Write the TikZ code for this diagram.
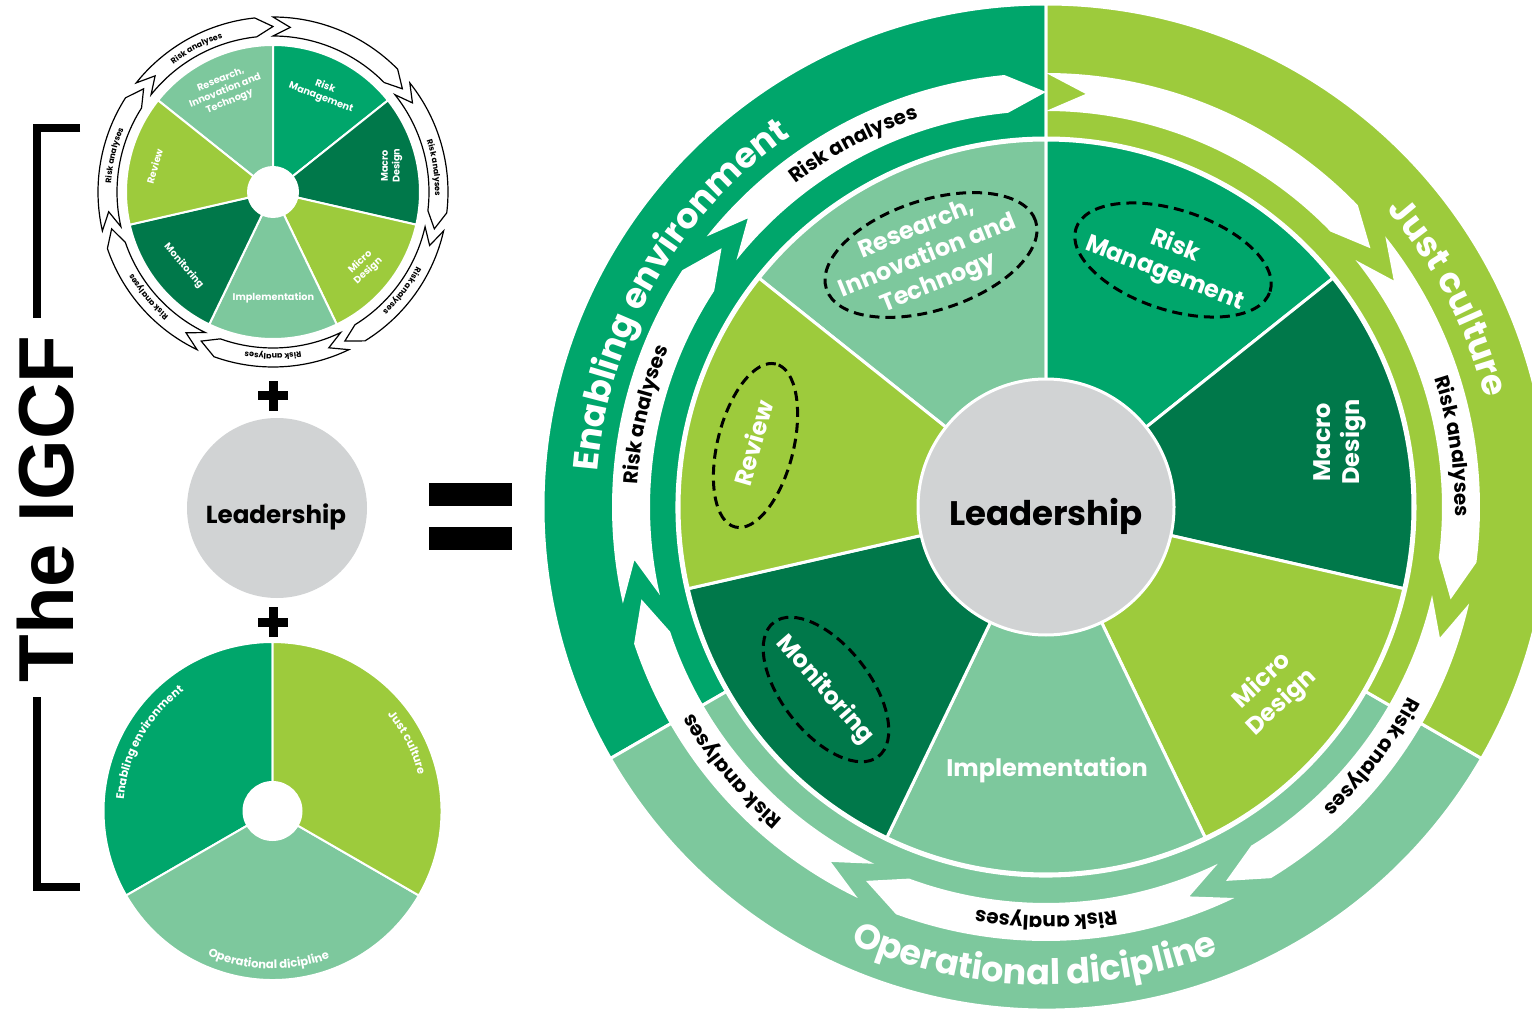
\documentclass[tikz,border=0pt]{standalone}
\usepackage{fontspec}
\setmainfont{Poppins}
\newfontfamily\igcffont{Liberation Sans}
\usetikzlibrary{decorations.text,shapes.geometric}
\definecolor{envc}{HTML}{00A66B}
\definecolor{justc}{HTML}{9DCB3C}
\definecolor{opc}{HTML}{7DC89D}
\definecolor{darkc}{HTML}{00784A}
\definecolor{leadc}{HTML}{D1D3D4}

% #1 Ro, #2 Rm, #3 Ri, #4 delta, #5 style
\newcommand\riskarrows[5]{%
  \foreach \k in {0,...,6}{%
    \pgfmathsetmacro\hb{90+\k*360/7}%
    \pgfmathsetmacro\ta{\hb+360/7}%
    \pgfmathsetmacro\hbd{\hb+#4}%
    \pgfmathsetmacro\tad{\ta-#4}%
    \path[#5] (\ta:#1) arc[start angle=\ta,end angle=\hbd,radius=#1] -- (\hb:#2) -- (\hbd:#3)
      arc[start angle=\hbd,end angle=\ta,radius=#3] -- (\tad:#2) -- cycle;
  }}

% #1 centre angle, #2 radius, #3 half span (+ clockwise, - anticlockwise), #4 format, #5 colour, #6 text
\newcommand\arclabel[6]{%
  \pgfmathsetmacro\alA{#1+#3}\pgfmathsetmacro\alB{#1-#3}%
  \path[decorate,decoration={text along path,text align=center,text color=#5,text={|#4|#6}}]
    (\alA:#2) arc[start angle=\alA,end angle=\alB,radius=#2];}

\newcommand\wedgelabels[1]{%
  \node[wl,rotate=22] (#1res) at (-118,250) {Research,\\Innovation and\\Technogy};
  \node[wl,rotate=-21] (#1rm) at (124,247) {Risk\\Management};
  \node[wl,rotate=90] (#1mac) at (294,65) {Macro\\Design};
  \node[wl,rotate=43] (#1mic) at (226,-185) {Micro\\Design};
  \node[wl] (#1imp) at (1,-263) {Implementation};
  \node[wl,rotate=-49] (#1mon) at (-221,-183) {Monitoring};
  \node[wl,rotate=74] (#1rev) at (-293,64) {Review};}

\begin{document}
\begin{tikzpicture}[x=0.5pt,y=0.5pt,
  wl/.style={text=white,font=\bfseries\fontsize{12}{14.5}\selectfont,align=center,inner sep=0pt},
  dashell/.style={ellipse,draw=black,dash pattern=on 5pt off 3pt,line width=1.5pt,inner sep=0pt},
  bigsep/.style={draw=white,line width=1.5pt,line join=round},
  smallsep/.style={draw=white,line width=1pt,line join=round}]
\useasboundingbox (0,0) rectangle (1532,1014);
\clip (0,0) rectangle (1532,1014);
\fill[white] (0,0) rectangle (1532,1014);

% ---------- bracket and title ----------
\draw[line width=4pt] (80,886) -- (37,886) -- (37,696);
\draw[line width=4pt] (37,317) -- (37,127) -- (80,127);
\node[rotate=90,font=\igcffont\bfseries\fontsize{39}{39}\selectfont,inner sep=0pt] (igcf) at (45.5,505) {The IGCF};

% ---------- small wheel ----------
\begin{scope}[shift={(273,822)}]
  \riskarrows{175}{165.5}{156}{6}{fill=white,draw=black,line width=0.6pt}
  \foreach \L/\col in {90/opc,38.571/envc,-12.857/darkc,-64.286/justc,-115.714/opc,-167.143/darkc,-218.571/justc}{
    \filldraw[fill=\col,smallsep] (0,0) -- (\L:147) arc[start angle=\L,delta angle=51.4286,radius=147] -- cycle;}
  \fill[white] (0,0) circle[radius=26];
  \begin{scope}[scale=0.404,transform shape]
    \wedgelabels{s}
  \end{scope}
  \foreach \ang in {118,167,220,270,-37.5,8.5}{%
    \arclabel{\ang}{162}{22}{\bfseries\fontsize{4}{4}\selectfont}{black}{Risk analyses}}
\end{scope}

% ---------- plus signs and small leadership ----------
\draw[line width=4.5pt] (258,618) -- (288,618) (273,603) -- (273,633);
\draw[line width=4.5pt] (258,392) -- (288,392) (273,377) -- (273,407);
\node[circle,fill=leadc,minimum size=90pt,inner sep=0pt] (slead) at (277,506) {};
\node[font=\bfseries\fontsize{12.3}{14}\selectfont,inner sep=0pt] (sleadtxt) at (276,497) {Leadership};

% ---------- three culture sectors ----------
\begin{scope}[shift={(272.5,203)}]
  \filldraw[fill=envc,smallsep] (0,0) -- (90:169) arc[start angle=90,end angle=210,radius=169] -- cycle;
  \filldraw[fill=opc,smallsep] (0,0) -- (210:169) arc[start angle=210,end angle=330,radius=169] -- cycle;
  \filldraw[fill=justc,smallsep] (0,0) -- (-30:169) arc[start angle=-30,end angle=90,radius=169] -- cycle;
  \fill[white] (0,0) circle[radius=30];
  \arclabel{151}{149}{40}{\bfseries\fontsize{5.6}{6}\selectfont}{white}{Enabling environment}
  \arclabel{27}{150}{25}{\bfseries\fontsize{5.6}{6}\selectfont}{white}{Just culture}
  \arclabel{268.5}{158}{-35}{\bfseries\fontsize{5.8}{6}\selectfont}{white}{Operational dicipline}
\end{scope}

% ---------- equals sign ----------
\fill (429,508) rectangle (512,531);
\fill (429,464) rectangle (512,487);

% ---------- big wheel ----------
\begin{scope}[shift={(1046,507)}]
  \filldraw[fill=envc,bigsep] (90:503) arc[start angle=90,end angle=210,radius=503] -- (210:369) arc[start angle=210,end angle=90,radius=369] -- cycle;
  \filldraw[fill=opc,bigsep] (210:503) arc[start angle=210,end angle=330,radius=503] -- (330:369) arc[start angle=330,end angle=210,radius=369] -- cycle;
  \filldraw[fill=justc,bigsep] (-30:503) arc[start angle=-30,end angle=90,radius=503] -- (90:369) arc[start angle=90,end angle=-30,radius=369] -- cycle;
  \riskarrows{434}{415}{396}{5.5}{fill=white}
  \foreach \L/\col in {90/opc,38.571/envc,-12.857/darkc,-64.286/justc,-115.714/opc,-167.143/darkc,-218.571/justc}{
    \filldraw[fill=\col,bigsep] (0,0) -- (\L:367) arc[start angle=\L,delta angle=51.4286,radius=367] -- cycle;}
  \node[circle,fill=leadc,draw=white,line width=1.5pt,minimum size=128pt,inner sep=0pt] (lead) at (0,0) {};
  \node[font=\bfseries\fontsize{17}{20}\selectfont,inner sep=0pt] (leadtxt) at (0,-9) {Leadership};
  \wedgelabels{b}
  \node[dashell,minimum width=110pt,minimum height=55pt,rotate=18] (eres) at (-115,252) {};
  \node[dashell,minimum width=102pt,minimum height=50pt,rotate=-18] (erm) at (127,247) {};
  \node[dashell,minimum width=84pt,minimum height=38pt,rotate=76] (erev) at (-290.5,61.5) {};
  \node[dashell,minimum width=85pt,minimum height=44pt,rotate=-52] (emon) at (-220,-182.5) {};
  \arclabel{150}{450}{40}{\bfseries\fontsize{17.5}{18}\selectfont}{white}{Enabling environment}
  \arclabel{27.5}{452}{25}{\bfseries\fontsize{17.5}{18}\selectfont}{white}{Just culture}
  \arclabel{268.5}{478}{-35}{\bfseries\fontsize{17.5}{18}\selectfont}{white}{Operational dicipline}
  \foreach \ang in {118,167,220,270,-37.5,8.5}{%
    \arclabel{\ang}{409}{22}{\bfseries\fontsize{10}{10}\selectfont}{black}{Risk analyses}}
\end{scope}
\end{tikzpicture}
\end{document}
